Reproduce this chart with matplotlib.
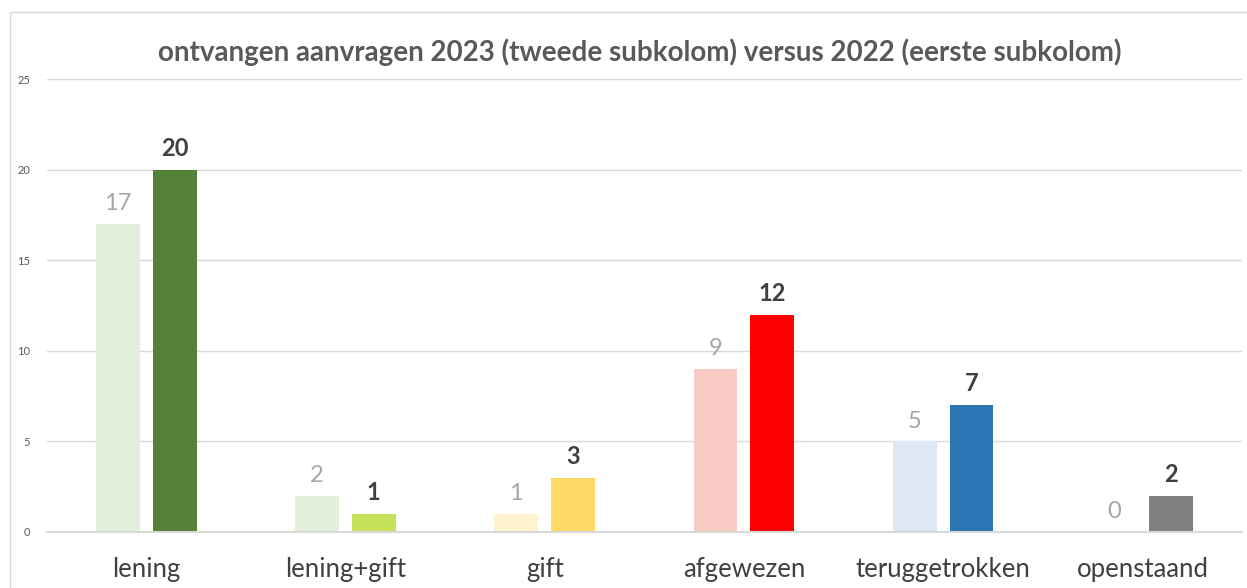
import numpy as np
import matplotlib.pyplot as plt
from matplotlib.patches import Rectangle

categories = ["lening", "lening+gift", "gift", "afgewezen", "teruggetrokken", "openstaand"]
values_2022 = [17, 2, 1, 9, 5, 0]
values_2023 = [20, 1, 3, 12, 7, 2]
colors_2022 = ["#e2efda", "#e2efda", "#fff2cc", "#f8cbc4", "#dde8f4", "#d9d9d9"]
colors_2023 = ["#538135", "#c5e05b", "#ffd966", "#ff0000", "#2e75b6", "#808080"]
title = "ontvangen aanvragen 2023 (tweede subkolom) versus 2022 (eerste subkolom)"

plt.rcParams["font.family"] = ["Lato", "DejaVu Sans"]

W, H = 1247, 588
fig = plt.figure(figsize=(W / 100, H / 100), dpi=100)
ax = fig.add_axes([46.6 / W, 1 - 532 / H, (1242 - 46.6) / W, (532 - 79) / H])

x = np.arange(len(categories))
width = 0.22
off = 0.1425

bars1 = ax.bar(x - off, values_2022, width, color=colors_2022, zorder=2)
bars2 = ax.bar(x + off, values_2023, width, color=colors_2023, zorder=2)

for b, v in zip(bars1, values_2022):
    ax.annotate(str(v), (b.get_x() + b.get_width() / 2, v), xytext=(0, 7),
                textcoords="offset points", ha="center", va="bottom",
                fontsize=17, color="#a6a6a6")
for b, v in zip(bars2, values_2023):
    ax.annotate(str(v), (b.get_x() + b.get_width() / 2, v), xytext=(0, 7),
                textcoords="offset points", ha="center", va="bottom",
                fontsize=17, fontweight="bold", color="#404040")

ax.set_xlim(-0.5, len(categories) - 0.5)
ax.set_ylim(0, 25)
ax.set_yticks(np.arange(0, 26, 5))
ax.set_xticks(x)
ax.set_xticklabels(categories, fontsize=18.5, color="#404040")
ax.tick_params(axis="x", length=0, pad=18)
ax.tick_params(axis="y", length=0, pad=12, labelsize=8, labelcolor="#595959")
ax.grid(axis="y", color="#d9d9d9", lw=1, zorder=0)
for s in ["left", "right", "top"]:
    ax.spines[s].set_visible(False)
ax.spines["bottom"].set_color("#d9d9d9")
ax.spines["bottom"].set_linewidth(1.5)

fig.text(640 / W, 1 - 52 / H, title, ha="center", va="center",
         fontsize=20, fontweight="bold", color="#595959")

fig.patches.append(Rectangle((10 / W, -0.1), 1.5, 1 - 12 / H + 0.1, fill=False,
                             edgecolor="#d9d9d9", lw=1, transform=fig.transFigure))

fig.savefig("out.png", dpi=100)
